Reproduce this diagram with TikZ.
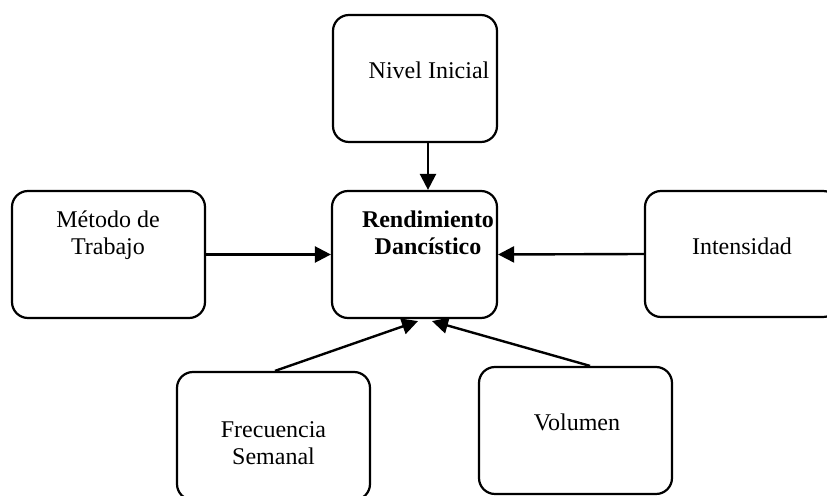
\documentclass[tikz,border=0pt]{standalone}
\usepackage{fontspec}
\setmainfont{Liberation Serif}
\usetikzlibrary{arrows.meta,calc}
\begin{document}
\begin{tikzpicture}[x=0.5pt,y=-0.5pt,
  box/.style={draw,line width=1.1pt,rounded corners=8pt,inner sep=0pt},
  lbl/.style={inner sep=0pt,align=center,anchor=base,font=\fontsize{12}{13.7}\selectfont},
  link/.style={line width=1.2pt,-{Triangle[length=8pt,width=8pt]}}]
\useasboundingbox (0,0) rectangle (827,496);

% boxes
\node[box,minimum width=82pt,minimum height=63.5pt] (nivel) at (415,78.5) {};
\node[box,minimum width=96.5pt,minimum height=63.5pt] (metodo) at (108.5,254.5) {};
\node[box,minimum width=82.5pt,minimum height=63.5pt] (rend) at (414.5,254.5) {};
\node[box,minimum width=97pt,minimum height=63pt] (inten) at (742,254) {};
\node[box,minimum width=96.5pt,minimum height=64pt] (frec) at (273.5,436) {};
\node[box,minimum width=96.5pt,minimum height=63.5pt] (vol) at (575.5,430.5) {};

% labels (multi-line labels sit on the baseline of their last line)
\node[lbl] (tnivel) at (429,79) {Nivel Inicial};
\node[lbl] (tmetodo) at (108,255) {Método de\\Trabajo};
\node[lbl,font=\fontsize{12}{13.7}\selectfont\bfseries] (trend) at (428,255) {Rendimiento\\Dancístico};
\node[lbl] (tinten) at (742,255) {Intensidad};
\node[lbl] (tfrec) at (273.5,465) {Frecuencia\\Semanal};
\node[lbl] (tvol) at (577,431) {Volumen};

% connectors
\draw[link] ($(nivel.south)+(13,0)$) -- ($(rend.north)+(13.5,0)$);
\draw[link] (metodo.east) -- (rend.west);
\draw[link] (inten.west) -- (rend.east);
\draw[link] ($(frec.north)+(1.5,0)$) -- ($(rend.south)+(3.5,2)$);
\draw[link] ($(vol.north)+(14.5,0)$) -- ($(rend.south)+(17.5,2)$);
\end{tikzpicture}
\end{document}
